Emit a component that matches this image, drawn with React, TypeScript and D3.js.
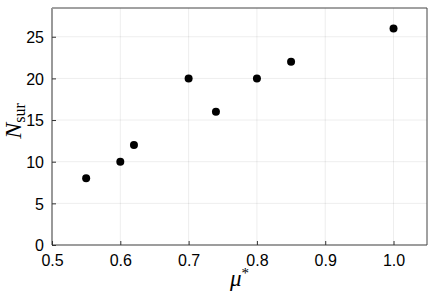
import React from "react";
import * as d3 from "d3";

const muValues = [0.55, 0.6, 0.62, 0.7, 0.74, 0.8, 0.85, 1.0];
const nSurValues = [8, 10, 12, 20, 16, 20, 22, 26];
const xTicks = [0.5, 0.6, 0.7, 0.8, 0.9, 1.0];
const yTicks = [0, 5, 10, 15, 20, 25];

export default function App() {
  const width = 436;
  const height = 291;
  const left = 52;
  const right = 427;
  const top = 8;
  const bottom = 245;

  const svgRef = React.useRef<SVGSVGElement>(null);

  const xScale = d3.scaleLinear().domain([0.5, 1.049]).range([left, right]);
  const yScale = d3.scaleLinear().domain([0, 28.45]).range([bottom, top]);

  React.useEffect(() => {
    const svg = d3.select(svgRef.current);

    // grid
    svg
      .select(".grid")
      .selectAll("line.gx")
      .data(xTicks)
      .join("line")
      .attr("class", "gx")
      .attr("x1", (d) => xScale(d))
      .attr("x2", (d) => xScale(d))
      .attr("y1", top)
      .attr("y2", bottom)
      .attr("stroke", "#000")
      .attr("stroke-opacity", 0.07);
    svg
      .select(".grid")
      .selectAll("line.gy")
      .data(yTicks)
      .join("line")
      .attr("class", "gy")
      .attr("x1", left)
      .attr("x2", right)
      .attr("y1", (d) => yScale(d))
      .attr("y2", (d) => yScale(d))
      .attr("stroke", "#000")
      .attr("stroke-opacity", 0.07);

    const xAxis = d3
      .axisBottom(xScale)
      .tickValues(xTicks)
      .tickFormat(d3.format(".1f"))
      .tickSizeInner(-4)
      .tickSizeOuter(0)
      .tickPadding(10);
    svg
      .select(".x-axis")
      .attr("transform", `translate(0,${bottom})`)
      .call(xAxis as any)
      .call((g: any) => g.select(".domain").remove())
      .call((g: any) => g.selectAll(".tick line").attr("stroke", "#333"))
      .selectAll("text")
      .attr("fill", "#000")
      .style("font-size", "16px")
      .style("font-family", "Liberation Sans, Arial, sans-serif");

    const yAxis = d3
      .axisLeft(yScale)
      .tickValues(yTicks)
      .tickSizeInner(-4)
      .tickSizeOuter(0)
      .tickPadding(8);
    svg
      .select(".y-axis")
      .attr("transform", `translate(${left},0)`)
      .call(yAxis as any)
      .call((g: any) => g.select(".domain").remove())
      .call((g: any) => g.selectAll(".tick line").attr("stroke", "#333"))
      .selectAll("text")
      .attr("fill", "#000")
      .attr("dy", "0.36em")
      .style("font-size", "16px")
      .style("font-family", "Liberation Sans, Arial, sans-serif");

    svg
      .select(".points")
      .selectAll("circle")
      .data(muValues.map((m, i) => ({ m, n: nSurValues[i] })))
      .join("circle")
      .attr("cx", (d) => xScale(d.m))
      .attr("cy", (d) => yScale(d.n))
      .attr("r", 4)
      .attr("fill", "#000");
  }, []);

  return (
    <svg
      ref={svgRef}
      width={width}
      height={height}
      style={{ position: "absolute", left: 0, top: 0, background: "#fff" }}
    >
      <g className="grid" />
      {/* frame */}
      <line x1={left} x2={right} y1={top} y2={top} stroke="#444" strokeWidth={1} />
      <line x1={right} x2={right} y1={top} y2={bottom} stroke="#444" strokeWidth={1} />
      <line x1={left} x2={right} y1={bottom} y2={bottom} stroke="#444" strokeWidth={1} />
      <line x1={left} x2={left} y1={top} y2={bottom} stroke="#999" strokeWidth={2} />
      <g className="x-axis" />
      <g className="y-axis" />
      <g className="points" />
      <text
        x={(left + right) / 2}
        y={286}
        textAnchor="middle"
        style={{ fontFamily: "Liberation Serif, serif", fontSize: 23, fontStyle: "italic" }}
      >
        μ<tspan fontStyle="normal" fontSize={15} dy={-8}>*</tspan>
      </text>
      <text
        transform={`translate(21,121) rotate(-90)`}
        textAnchor="middle"
        style={{ fontFamily: "Liberation Serif, serif", fontSize: 24 }}
      >
        <tspan fontStyle="italic">N</tspan>
        <tspan fontSize={16} dy={4}>sur</tspan>
      </text>
    </svg>
  );
}
